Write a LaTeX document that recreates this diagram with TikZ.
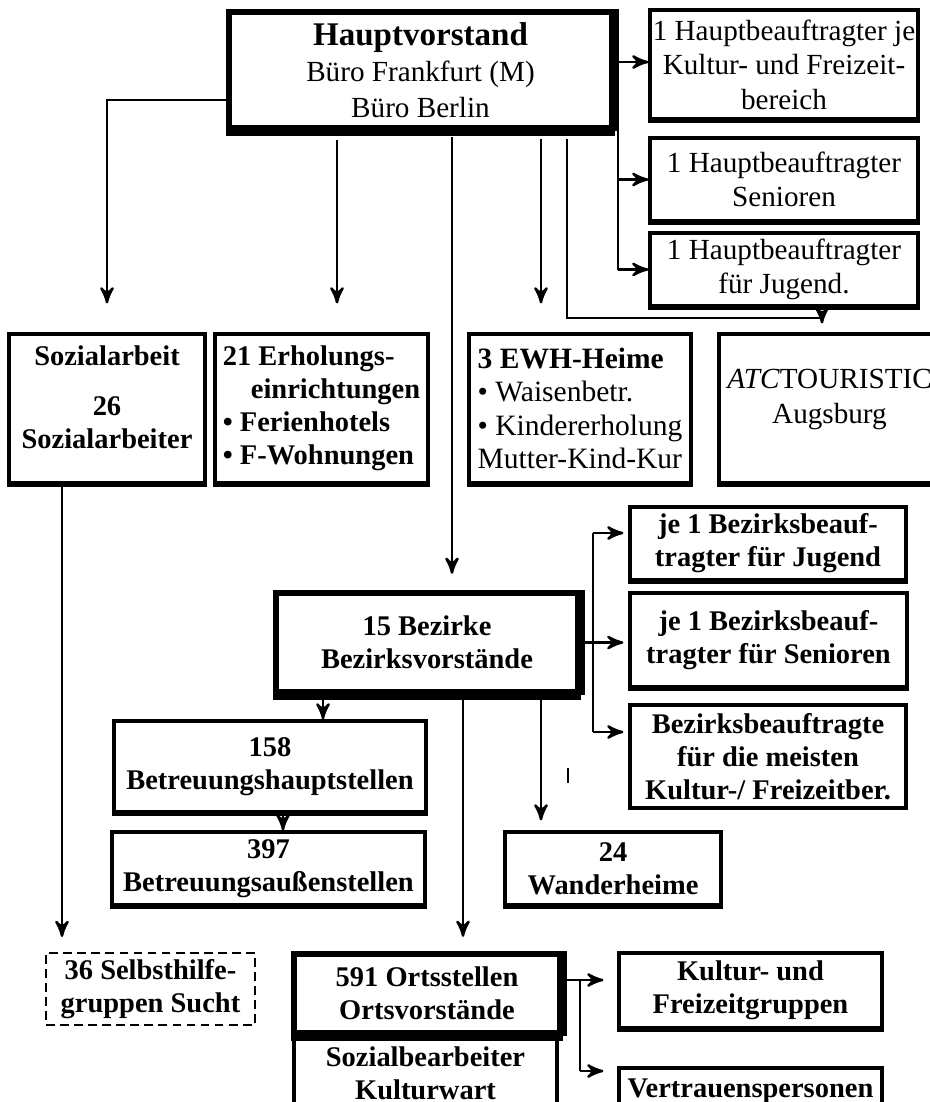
\documentclass[tikz,border=0pt]{standalone}
\usepackage{fontspec}
\setmainfont{Liberation Serif}
\usetikzlibrary{%
  arrows,%
  positioning% wg. " of "
}

\begin{document}
\begin{tikzpicture}
[draw=black, line width=0.7pt, >=stealth',
entry/.style={rectangle, draw, line width=0.9pt, inner sep=0pt, align=center, font=\fontsize{8.3}{9.8}\selectfont},
entryb/.style={entry, font=\fontsize{8.1}{9.4}\selectfont\bfseries},
entry2/.style={entryb, line width=1.8pt},
entry3/.style={entryb, line width=0.6pt, dash pattern=on 2.5pt off 1.5pt}]

\useasboundingbox (0,0) rectangle (9.3,-11.02);

% Hauptvorstand
\node[entry2, font=\fontsize{8.3}{10.2}\selectfont, minimum width=3.83cm, minimum height=1.16cm] (hv) at (4.205,-0.70)
  {{\fontsize{9.4}{11}\selectfont\bfseries Hauptvorstand}\\B\"uro Frankfurt (M)\\B\"uro Berlin};

\node[entry, minimum width=2.68cm, minimum height=1.09cm] (r1) at (7.84,-0.645) {1 Hauptbeauftragter je\\Kultur- und Freizeit-\\bereich};
\node[entry, minimum width=2.68cm, minimum height=0.83cm] (r2) at (7.84,-1.795) {1 Hauptbeauftragter\\Senioren};
\node[entry, minimum width=2.68cm, minimum height=0.73cm] (r3) at (7.84,-2.695) {1 Hauptbeauftragter\\f\"ur Jugend.};

\node[entryb, minimum width=1.96cm, minimum height=1.49cm] (soz) at (1.07,-4.085) {Sozialarbeit\\[5pt]26\\Sozialarbeiter\\[-0.1cm]};
\node[entryb, align=left, minimum width=2.13cm, minimum height=1.49cm] (erh) at (3.215,-4.085)
  {21 Erholungs-\\\hspace*{0.28cm}einrichtungen\\\textbullet{} Ferienhotels\\\textbullet{} F-Wohnungen};
\node[entry, align=left, font=\fontsize{8.4}{9.5}\selectfont, minimum width=2.22cm, minimum height=1.49cm] (ewh) at (5.80,-4.085)
  {\textbf{3 EWH-Heime}\\\textbullet{} Waisenbetr.\\\textbullet{} Kindererholung\\Mutter-Kind-Kur};
\node[entry, minimum width=2.21cm, minimum height=1.49cm] (atc) at (8.295,-4.085) {\textit{ATC}TOURISTIC\\Augsburg\\[-0.1cm]};

% Bezirke
\node[entryb, minimum width=2.76cm, minimum height=0.73cm] (bj) at (7.68,-5.435) {je 1 Bezirksbeauf-\\tragter f\"ur Jugend};
\node[entryb, minimum width=2.77cm, minimum height=0.94cm] (bs) at (7.685,-6.40) {je 1 Bezirksbeauf-\\tragter f\"ur Senioren};
\node[entry2, minimum width=3.02cm, minimum height=0.99cm] (bz) at (4.27,-6.425) {15 Bezirke\\Bezirksvorst\"ande};
\node[entryb, minimum width=2.76cm, minimum height=1.03cm] (bk) at (7.68,-7.565) {Bezirksbeauftragte\\f\"ur die meisten\\Kultur-/ Freizeitber.};

\node[entryb, minimum width=3.12cm, minimum height=0.91cm] (b158) at (2.70,-7.665) {158\\Betreuungshauptstellen};
\node[entryb, minimum width=3.13cm, minimum height=0.73cm] (b397) at (2.685,-8.685) {397\\Betreuungsau\ss enstellen};
\node[entryb, minimum width=2.16cm, minimum height=0.73cm] (wh) at (6.13,-8.685) {24\\Wanderheime};

% Ortsstellen
\node[entry3, minimum width=2.09cm, minimum height=0.72cm] (sh) at (1.505,-9.89) {36 Selbsthilfe-\\gruppen Sucht};
\node[entryb, minimum width=2.63cm, minimum height=0.80cm] (sk) at (4.255,-10.73) {Sozialbearbeiter\\Kulturwart};
\node[entry2, minimum width=2.66cm, minimum height=0.79cm] (os) at (4.27,-9.935) {591 Ortsstellen\\Ortsvorst\"ande};
\node[entryb, minimum width=2.63cm, minimum height=0.75cm] (kf) at (7.505,-9.905) {Kultur- und\\Freizeitgruppen};
\node[entryb, minimum width=2.63cm, minimum height=0.47cm] (vp) at (7.505,-10.915) {Vertrauenspersonen};

\foreach \n in {hv,bz,os} {
  \draw[line width=3pt] (\n.south west) -- (\n.south east);
  \draw[line width=2.4pt] (\n.north east) -- (\n.south east);
}
\foreach \n in {r1,r2,r3,soz,erh,ewh,atc,bj,bs,b158,b397,wh,kf}
  \draw[line width=1.6pt] (\n.south west) -- (\n.south east);

\coordinate (hvr) at (6.18,-0.62);
\coordinate (hvl) at (2.29,-1.00);
\coordinate (t1) at (3.37,-1.40);
\coordinate (t2) at (4.52,-1.37);
\coordinate (t3) at (5.41,-1.39);
\coordinate (t4) at (5.67,-1.39);
\coordinate (t5) at (8.22,-3.18);

\draw[->] (hv.east |- hvr) -- (r1.west |- hvr);
\draw (hvr) -- (hvr |- r3.west);
\draw[->] (hvr |- r2.west) -- (r2.west);
\draw[->] (hvr |- r3.west) -- (r3.west);
\draw[->, shorten >=0.29cm] (hvl) -| (soz.north);
\draw[->, shorten >=0.29cm] (t1) -- (t1 |- erh.north);
\draw[->, shorten >=0.16cm] (t2) -- (t2 |- bz.north);
\draw[->, shorten >=0.29cm] (t3) -- (t3 |- ewh.north);
\draw[->, shorten >=0.09cm] (t4) |- (t5) -- (t5 |- atc.north);

\coordinate (bj1) at (5.93,-5.33);
\coordinate (bk1) at (5.93,-7.32);
\draw (bj1) -- (bk1);
\draw[->, shorten >=0.05cm] (bj1) -- (bj1 -| bj.west);
\draw[->, shorten >=0.05cm] (bz.east) -- (bz.east -| bs.west);
\draw[->, shorten >=0.05cm] (bk1) -- (bk1 -| bk.west);

\coordinate (d1) at (3.23,-6.93);
\coordinate (d2) at (4.63,-6.93);
\coordinate (d3) at (5.41,-6.93);
\coordinate (d4) at (2.83,-8.13);
\coordinate (d5) at (0.62,-4.84);
\draw[->] (d1) -- (d1 |- b158.north);
\draw[->, shorten >=0.14cm] (d2) -- (d2 |- os.north);
\draw[->, shorten >=0.10cm] (d3) -- (d3 |- wh.north);
\draw[->] (d4) -- (d4 |- b397.north);
\draw[->, shorten >=0.15cm] (d5) -- (d5 |- sh.north);
\draw (5.68,-7.68) -- (5.68,-7.83);

\coordinate (o1) at (5.80,-9.80);
\coordinate (o2) at (5.80,-10.71);
\draw[->, shorten >=0.14cm] (os.east |- o1) -- (kf.west |- o1);
\draw (o1) -- (o2);
\draw[->, shorten >=0.14cm] (o2) -- (o2 -| vp.west);
\end{tikzpicture}
\end{document}
